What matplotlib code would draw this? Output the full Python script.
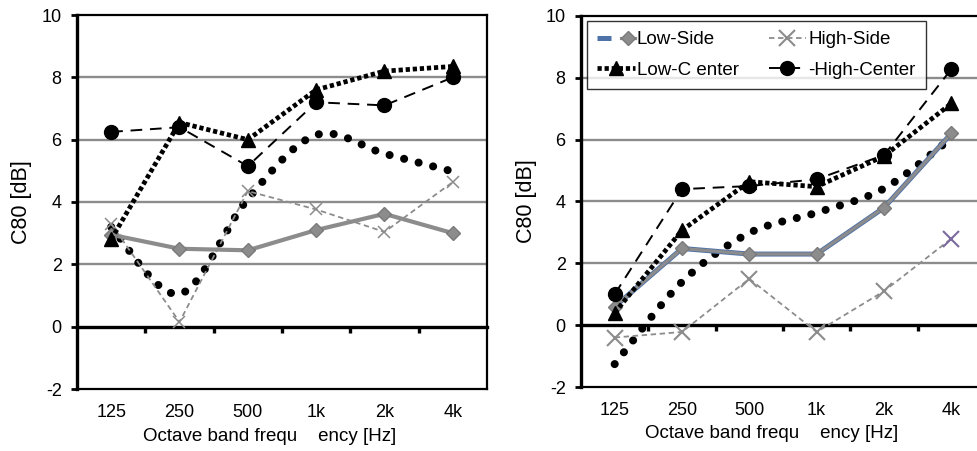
import matplotlib
matplotlib.use('Agg')
import matplotlib.pyplot as plt
import numpy as np
from matplotlib.path import Path
from matplotlib.patches import PathPatch
from matplotlib.legend_handler import HandlerTuple

plt.rcParams['font.family'] = ['Liberation Sans', 'DejaVu Sans']

categories = ['125', '250', '500', '1k', '2k', '4k']
y_ticks = [-2, 0, 2, 4, 6, 8, 10]
legend_labels = ['Low-Side', 'High-Side', 'Low-C enter', '-High-Center']
x_label = 'Octave band frequ    ency [Hz]'
y_label = 'C80 [dB]'

# Left panel
left_low_side = [2.95, 2.5, 2.45, 3.1, 3.62, 3.0]
left_high_side = [3.3, 0.15, 4.35, 3.76, 3.04, 4.64]
left_low_center = [2.8, 6.55, 6.0, 7.6, 8.2, 8.35]
left_high_center = [6.25, 6.4, 5.15, 7.2, 7.1, 8.0]
left_dotted = [3.2, 1.05, 4.1, 6.15, 5.55, 4.98]

# Right panel
right_low_side = [0.6, 2.48, 2.3, 2.3, 3.8, 6.2]
right_high_side = [-0.4, -0.22, 1.5, -0.22, 1.1, 2.8]
right_low_center = [0.4, 3.07, 4.64, 4.48, 5.47, 7.17]
right_high_center = [1.0, 4.4, 4.5, 4.72, 5.5, 8.28]
right_dotted = [-1.26, 1.4, 2.98, 3.64, 4.42, 6.05]

GRAY = '#8c8c8c'
TICK_FS = 13
LABEL_FS = 13.5


def smooth_path(xs, ys):
    pts = np.column_stack([np.asarray(xs, float), np.asarray(ys, float)])
    n = len(pts)
    verts = [pts[0]]
    codes = [Path.MOVETO]
    for i in range(n - 1):
        p0 = pts[i - 1] if i > 0 else pts[i]
        p1 = pts[i]
        p2 = pts[i + 1]
        p3 = pts[i + 2] if i + 2 < n else pts[i + 1]
        verts += [p1 + (p2 - p0) / 6.0, p2 - (p3 - p1) / 6.0, p2]
        codes += [Path.CURVE4] * 3
    return Path(verts, codes)


def setup(ax):
    ax.set_xlim(-0.5, len(categories) - 0.5)
    ax.set_ylim(y_ticks[0], y_ticks[-1])
    ax.set_yticks(y_ticks)
    ax.set_yticklabels([str(v) for v in y_ticks])
    ax.set_xticks(range(len(categories)))
    ax.set_xticklabels(categories)
    ax.tick_params(axis='x', length=0, pad=11, labelsize=TICK_FS)
    ax.tick_params(axis='y', length=4, width=2, direction='out', pad=7, labelsize=TICK_FS)
    for v in y_ticks[2:-1]:
        ax.axhline(v, color=GRAY, lw=1.7, zorder=0.5)
    ax.spines['left'].set_linewidth(2.4)
    ax.spines['top'].set_linewidth(1.6)
    ax.spines['right'].set_linewidth(1.6)
    ax.spines['bottom'].set_linewidth(1.6)
    zero_frac = (0 - y_ticks[0]) / (y_ticks[-1] - y_ticks[0])
    sec = ax.secondary_xaxis(zero_frac)
    sec.set_xticks(np.arange(len(categories) - 1) + 0.5)
    sec.tick_params(axis='x', length=4, width=2.4, direction='out', labelbottom=False, labeltop=False)
    for s in sec.spines.values():
        s.set_linewidth(2.4)
    ax.set_xlabel(x_label, fontsize=LABEL_FS)
    ax.set_ylabel(y_label, fontsize=15.5)


def draw(ax, low_side, high_side, low_center, high_center, dotted, right=False):
    x = np.arange(len(categories))
    ax.add_patch(PathPatch(smooth_path(x, dotted), fill=False, edgecolor='black',
                           lw=5.8, linestyle=(0, (0.01, 1.85)), capstyle='round', zorder=3))
    if right:
        ls_under, = ax.plot(x, low_side, color='#4f72a8', lw=3.6, zorder=3.9,
                            solid_capstyle='butt')
    ls, = ax.plot(x, low_side, color=GRAY, lw=3 if not right else 2.3, marker='D',
                  ms=7, mfc=GRAY, mec='#7a7a7a', zorder=4)
    if right:
        hs, = ax.plot(x, high_side, color=GRAY, lw=1.3, ls=(0, (3, 2)), marker='x',
                      ms=11, mew=1.5, markevery=slice(0, len(x) - 1), zorder=4)
        ax.plot(x[-1:], high_side[-1:], ls='none', marker='x', ms=11, mew=1.5,
                color='#7b6a9e', zorder=4)
    else:
        hs, = ax.plot(x, high_side, color=GRAY, lw=1.3, ls=(0, (3, 2)), marker='x',
                      ms=9, mew=1.1, zorder=4)
    lc, = ax.plot(x, low_center, color='black', lw=3.4, ls=(0, (0.9, 0.6)),
                  dash_capstyle='butt', marker='^', ms=10, mfc='black', mec='black', zorder=5)
    hc, = ax.plot(x, high_center, color='black', lw=1.4, ls=(0, (6, 4)),
                  marker='o', ms=10, mfc='black', mec='black', zorder=5)
    if right:
        return (ls_under, ls), hs, lc, hc
    return ls, hs, lc, hc


fig = plt.figure(figsize=(9.78, 4.51), dpi=100)
axL = fig.add_axes([77 / 978, 62 / 451, 410 / 978, 374 / 451])
axR = fig.add_axes([581 / 978, 64 / 451, 404 / 978, 371 / 451])

for ax in (axL, axR):
    setup(ax)

draw(axL, left_low_side, left_high_side, left_low_center, left_high_center, left_dotted)
h = draw(axR, right_low_side, right_high_side, right_low_center, right_high_center,
         right_dotted, right=True)

leg = axR.legend([h[0], h[2], h[1], h[3]],
                 [legend_labels[0], legend_labels[2], legend_labels[1], legend_labels[3]],
                 ncol=2, loc='upper left', bbox_to_anchor=(0.015, 0.987),
                 borderaxespad=0, fontsize=13.5, frameon=True, fancybox=False,
                 handlelength=2.0, handletextpad=0.1, columnspacing=1.6,
                 labelspacing=0.7, borderpad=0.55,
                 handler_map={tuple: HandlerTuple(ndivide=None)})
leg.get_frame().set_edgecolor('black')
leg.get_frame().set_linewidth(1.0)
leg.set_zorder(10)

axL.xaxis.set_label_coords(0.47, -0.104)
axR.xaxis.set_label_coords(0.473, -0.102)
axL.yaxis.set_label_coords(-0.11, 0.5)
axR.yaxis.set_label_coords(-0.109, 0.5)

fig.savefig('out.png', dpi=100)
